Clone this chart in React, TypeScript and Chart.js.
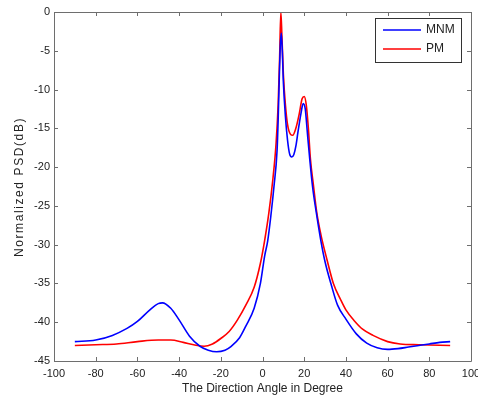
import React, { useEffect, useRef } from "react";
import { Chart, registerables } from "chart.js";

Chart.register(...registerables);

const mnmAngle = [-90, -80, -72, -65, -60, -54, -50, -48, -44, -40, -35, -30, -26, -22, -18, -15, -11, -8, -4, -1, 1, 2.5, 4, 5.5, 7, 7.5, 8, 8.5, 9, 9.5, 10, 11, 12, 13, 14, 15, 16, 17, 18.5, 19.5, 20.5, 21.5, 22.5, 24, 26, 28, 30, 33, 36, 40, 45, 50, 55, 60, 65, 70, 75, 80, 85, 90];
const mnmPsd = [-42.5, -42.3, -41.7, -40.8, -39.9, -38.4, -37.6, -37.5, -38.2, -39.7, -41.8, -43.1, -43.6, -43.8, -43.6, -43.1, -42, -40.5, -38.2, -35, -31.5, -29.5, -26.3, -22.5, -17.8, -14, -9, -4.5, -2.7, -5, -9, -13.5, -16.5, -18.3, -18.7, -18.4, -17.3, -15.5, -13, -11.8, -12.5, -15.5, -18.5, -22.5, -26.2, -29.5, -32.2, -35.2, -37.8, -39.6, -41.5, -42.7, -43.3, -43.5, -43.4, -43.2, -43, -42.8, -42.6, -42.5];

const pmAngle = [-90, -80, -70, -60, -50, -44, -38, -33, -28, -24, -20, -16, -12, -8, -4, -1, 1, 3, 5, 6.5, 7.5, 8.2, 8.8, 9.3, 10, 11, 12, 13.5, 14.5, 16, 17.5, 19, 20, 21, 22, 23, 24.5, 26, 28, 31, 34, 37.5, 40, 44, 48, 53, 60, 66, 75, 90];
const pmPsd = [-43, -42.9, -42.8, -42.5, -42.3, -42.3, -42.6, -42.9, -43.1, -42.8, -42.1, -41.2, -39.7, -37.8, -35.5, -32.4, -29.5, -26, -21.5, -17, -12, -6, 0, -3, -8, -12, -14.5, -15.8, -15.9, -15, -13.3, -11.2, -10.9, -12, -15, -19, -22.5, -25.8, -28.7, -32, -35, -37.1, -38.4, -39.8, -40.9, -41.7, -42.5, -42.8, -42.9, -43];

const seriesNames = ["MNM", "PM"];
const seriesColors = ["#0000ff", "#ff0000"];
const xTitle = "The Direction Angle in Degree";
const yTitle = "Normalized PSD(dB)";

const FONT = "'Liberation Sans', Arial, sans-serif";

const framePlugin = {
  id: "frame",
  afterDraw(chart: any) {
    const { ctx, chartArea: a, scales } = chart;
    ctx.save();
    ctx.strokeStyle = "#6e6e6e";
    ctx.lineWidth = 1;
    ctx.beginPath();
    ctx.rect(Math.round(a.left) + 0.5, Math.round(a.top) + 0.5, Math.round(a.right - a.left), Math.round(a.bottom - a.top));
    ctx.stroke();
    const tl = 4;
    ctx.beginPath();
    scales.x.ticks.forEach((t: any) => {
      const px = Math.round(scales.x.getPixelForValue(t.value)) + 0.5;
      ctx.moveTo(px, a.bottom);
      ctx.lineTo(px, a.bottom - tl);
      ctx.moveTo(px, a.top);
      ctx.lineTo(px, a.top + tl);
    });
    scales.y.ticks.forEach((t: any) => {
      const py = Math.round(scales.y.getPixelForValue(t.value)) + 0.5;
      ctx.moveTo(a.left, py);
      ctx.lineTo(a.left + tl, py);
      ctx.moveTo(a.right, py);
      ctx.lineTo(a.right - tl, py);
    });
    ctx.stroke();

    // axis titles
    ctx.fillStyle = "#222";
    ctx.font = `12px ${FONT}`;
    ctx.textAlign = "center";
    ctx.textBaseline = "middle";
    ctx.fillText(xTitle, (a.left + a.right) / 2, 389);
    ctx.save();
    ctx.translate(20, 187);
    ctx.rotate(-Math.PI / 2);
    (ctx as any).letterSpacing = "1.6px";
    ctx.fillText(yTitle, 0, 0);
    ctx.restore();

    // legend
    ctx.fillStyle = "#ffffff";
    ctx.fillRect(375, 18, 86, 44);
    ctx.strokeStyle = "#333";
    ctx.lineWidth = 1;
    ctx.strokeRect(375.5, 18.5, 86, 44);
    const ys = [30, 49];
    ctx.font = `12px ${FONT}`;
    seriesNames.forEach((n, i) => {
      ctx.strokeStyle = seriesColors[i];
      ctx.lineWidth = 1.5;
      ctx.beginPath();
      ctx.moveTo(383, ys[i]);
      ctx.lineTo(421, ys[i]);
      ctx.stroke();
      ctx.fillStyle = "#222";
      ctx.textAlign = "left";
      ctx.fillText(n, 426, ys[i]);
    });
    ctx.restore();
  },
};

export default function App() {
  const ref = useRef<HTMLCanvasElement>(null);
  useEffect(() => {
    if (!ref.current) return;
    const chart = new Chart(ref.current, {
      type: "line",
      data: {
        datasets: [
          {
            label: seriesNames[0],
            data: mnmAngle.map((x, i) => ({ x, y: mnmPsd[i] })),
            borderColor: seriesColors[0],
            borderWidth: 1.6,
            pointRadius: 0,
            cubicInterpolationMode: "monotone",
            fill: false,
          },
          {
            label: seriesNames[1],
            data: pmAngle.map((x, i) => ({ x, y: pmPsd[i] })),
            borderColor: seriesColors[1],
            borderWidth: 1.6,
            pointRadius: 0,
            cubicInterpolationMode: "monotone",
            fill: false,
          },
        ],
      },
      options: {
        animation: false,
        responsive: false,
        devicePixelRatio: 1,
        layout: { padding: { top: 12, right: 29, left: 0, bottom: 0 } },
        plugins: { legend: { display: false }, tooltip: { enabled: false } },
        scales: {
          x: {
            type: "linear",
            min: -100,
            max: 100,
            grid: { display: false, drawTicks: false },
            border: { display: false },
            ticks: { stepSize: 20, padding: 6, color: "#222", font: { family: FONT, size: 11 }, maxRotation: 0 },
            afterFit: (s: any) => { s.height = 41; },
          },
          y: {
            min: -45,
            max: 0,
            grid: { display: false, drawTicks: false },
            border: { display: false },
            ticks: { stepSize: 5, padding: 4, color: "#222", font: { family: FONT, size: 11 } },
            afterFit: (s: any) => { s.width = 54; },
          },
        },
      },
      plugins: [framePlugin],
    });
    return () => chart.destroy();
  }, []);
  return (
    <div style={{ position: "fixed", left: 0, top: 0, width: 478, height: 402, overflow: "hidden", background: "#fff" }}>
      <canvas ref={ref} width={500} height={402} style={{ width: 500, height: 402, display: "block" }} />
    </div>
  );
}
